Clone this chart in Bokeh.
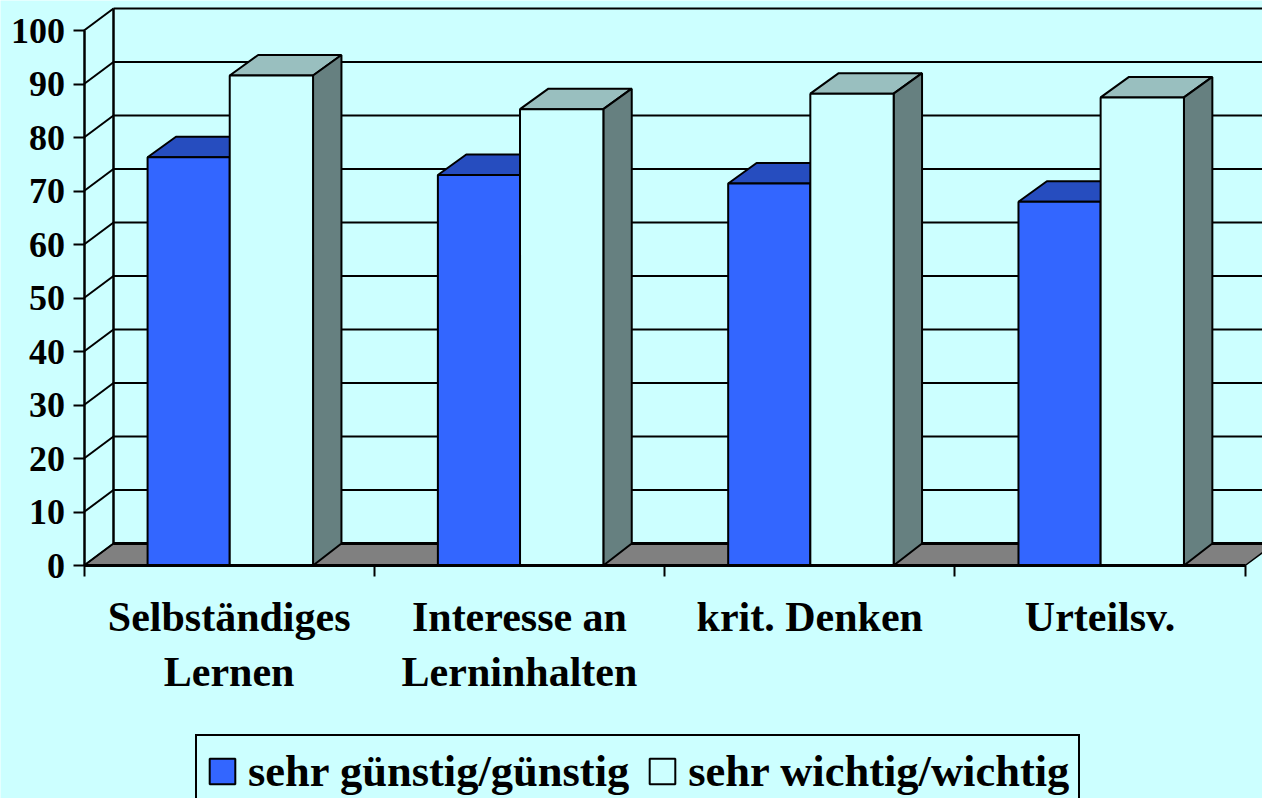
from bokeh.embed import file_html
from bokeh.resources import INLINE
from bokeh.plotting import figure
from bokeh.models import FixedTicker, Label, Legend, LegendItem, LinearAxis, Range1d

categories_line1 = ["Selbständiges", "Interesse an", "krit. Denken", "Urteilsv."]
categories_line2 = ["Lernen", "Lerninhalten", "", ""]
series_names = ["sehr günstig/günstig", "sehr wichtig/wichtig"]
guenstig = [76.3, 73.0, 71.4, 68.0]
wichtig = [91.6, 85.3, 88.2, 87.5]
y_ticks = list(range(0, 101, 10))
x_ticks = [0, 1, 2, 3, 4]

BG = "#ccffff"
FONT = "Liberation Serif"
W, H = 1262, 798
X0, Y0 = 83.5, 565     # pixel position of the axis origin
PX_X = 290.3           # pixels per category
PX_Y = 5.35            # pixels per value unit
DX = 29.5 / PX_X       # wall depth in data units
DY = 22 / PX_Y
BAR_DX = 28.4 / PX_X   # bar depth
BAR_DY = 20.5 / PX_Y
XR = (W - X0) / PX_X + 0.1

p = figure(width=W, height=H, output_backend="svg", toolbar_location=None,
           x_axis_type=None, y_axis_type=None,
           x_range=Range1d(-X0 / PX_X, (W - X0) / PX_X),
           y_range=Range1d((Y0 - H) / PX_Y, Y0 / PX_Y),
           min_border_left=0, min_border_right=0, min_border_top=0, min_border_bottom=0,
           background_fill_color=BG, border_fill_color=BG, outline_line_color=None)
p.grid.visible = False

# floor
p.patch([0, DX, 4 + DX, 4], [0, DY, DY, 0], fill_color="#808080", line_color="black", line_width=1.5)
p.segment([DX], [DY], [XR], [DY], line_color="black", line_width=3)

# walls and grid
p.segment([DX] * 10, [t + DY for t in y_ticks[1:]], [XR] * 10, [t + DY for t in y_ticks[1:]],
          line_color="black", line_width=2)
p.segment([0] * 11, y_ticks, [DX] * 11, [t + DY for t in y_ticks], line_color="black", line_width=2)
p.segment([DX], [DY], [DX], [100 + DY], line_color="black", line_width=2.5)


def bars(values, left, right, front, top, side):
    n = range(len(values))
    l = [i + left for i in n]
    r = [i + right for i in n]
    p.patches([[a, a + BAR_DX, b + BAR_DX, b] for a, b in zip(l, r)],
              [[v, v + BAR_DY, v + BAR_DY, v] for v in values],
              fill_color=top, line_color="black", line_width=2)
    p.patches([[b, b + BAR_DX, b + BAR_DX, b] for b in r],
              [[0, DY, v + BAR_DY, v] for v in values],
              fill_color=side, line_color="black", line_width=2)
    return p.quad(left=l, right=r, bottom=0, top=values, fill_color=front,
                  line_color="black", line_width=2)


r1 = bars(guenstig, 0.219, 0.502, "#3366ff", "#264dbf", "#264dbf")
r2 = bars(wichtig, 0.502, 0.789, BG, "#99bfbf", "#668080")

# axes
yaxis = LinearAxis(ticker=FixedTicker(ticks=y_ticks), bounds=(0, 100), fixed_location=0,
                   major_tick_out=11, major_tick_in=0, minor_tick_out=0, minor_tick_in=0,
                   major_tick_line_width=2, axis_line_width=2.5, major_label_standoff=8,
                   major_label_text_font=FONT, major_label_text_font_style="bold",
                   major_label_text_font_size="36px", major_label_text_color="black")
p.add_layout(yaxis, "left")
xaxis = LinearAxis(ticker=FixedTicker(ticks=x_ticks), bounds=(0, 4), fixed_location=0,
                   major_tick_out=11, major_tick_in=0, minor_tick_out=0, minor_tick_in=0,
                   major_tick_line_width=2, axis_line_width=3,
                   major_label_text_font_size="0px",
                   major_label_overrides={t: "" for t in x_ticks})
p.add_layout(xaxis, "below")

# category labels
for i, (a, b) in enumerate(zip(categories_line1, categories_line2)):
    for text, y in ((a, -51 / PX_Y), (b, -106 / PX_Y)):
        if text:
            p.add_layout(Label(x=i + 0.5, y=y, text=text, text_align="center",
                               text_baseline="alphabetic", text_font=FONT,
                               text_font_style="bold", text_font_size="42px", text_color="black"))

legend = Legend(items=[LegendItem(label=series_names[0], renderers=[r1]),
                       LegendItem(label=series_names[1], renderers=[r2])],
                orientation="horizontal", location=(195, -10),
                glyph_width=32, glyph_height=32, label_standoff=10, spacing=17,
                padding=9, margin=0, label_height=44,
                background_fill_color=BG, background_fill_alpha=1,
                border_line_color="black", border_line_width=2, border_line_alpha=1,
                label_text_font=FONT, label_text_font_style="bold",
                label_text_font_size="44.5px", label_text_color="black")
p.add_layout(legend, "center")

open("out.html", "w").write(file_html(p, INLINE))
